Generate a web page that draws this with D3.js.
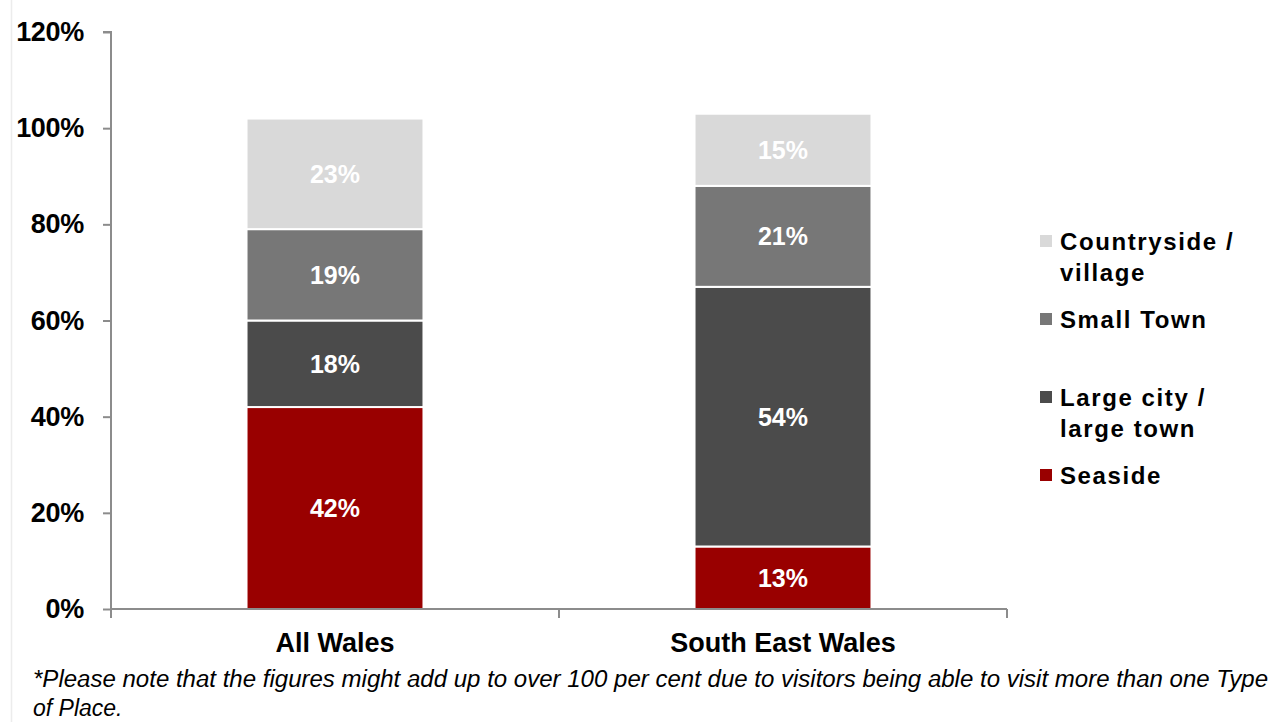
<!DOCTYPE html>
<html>
<head>
<meta charset="utf-8">
<script src="https://cdn.jsdelivr.net/npm/d3@7"></script>
<style>
  html, body { margin: 0; padding: 0; background: #fff; }
  svg { display: block; font-family: "Liberation Sans", Arial, sans-serif; }
</style>
</head>
<body>
<svg id="chart" width="1273" height="722"></svg>
<script>
// Regions shown as stacked columns
const regions = ["All Wales", "South East Wales"];

// Share of visitors by type of place (%), bottom to top
const seaside     = [42, 13];
const largeCity   = [18, 54];
const smallTown   = [19, 21];
const countryside = [23, 15];

const seriesNames  = ["Seaside", "Large city / large town", "Small Town", "Countryside / village"];
const seriesColors = ["#990000", "#4b4b4b", "#777777", "#d9d9d9"];
const legendLines  = [["Seaside"], ["Large city /", "large town"], ["Small Town"], ["Countryside /", "village"]];

const yTicks = [0, 20, 40, 60, 80, 100, 120];
const footnote = [
  "*Please note that the figures might add up to over 100 per cent due to visitors being able to visit more than one Type",
  "of Place."
];

const svg = d3.select("#chart");
const plot = { left: 111, right: 1007, top: 32, bottom: 609 };

// faint frame line on the left edge
svg.append("line")
  .attr("x1", 11.5).attr("x2", 11.5).attr("y1", 0).attr("y2", 722)
  .attr("stroke", "#ececec").attr("stroke-width", 1.5);

const x = d3.scaleBand()
  .domain(regions)
  .range([plot.left, plot.right])
  .paddingInner(0.605)
  .paddingOuter(0.3025);

const y = d3.scaleLinear().domain([0, 120]).range([plot.bottom, plot.top]);

// stacked data
const rows = regions.map((r, i) => ({
  region: r,
  s0: seaside[i], s1: largeCity[i], s2: smallTown[i], s3: countryside[i]
}));
const stack = d3.stack().keys(["s0", "s1", "s2", "s3"])(rows);

const layers = svg.append("g").selectAll("g")
  .data(stack)
  .join("g")
  .attr("fill", (d, i) => seriesColors[i]);

layers.selectAll("rect")
  .data(d => d)
  .join("rect")
  .attr("x", d => x(d.data.region))
  .attr("width", x.bandwidth())
  .attr("y", d => y(d[1]))
  .attr("height", d => y(d[0]) - y(d[1]))
  .attr("stroke", "#fff")
  .attr("stroke-width", 2);

// value labels
layers.selectAll("text")
  .data(d => d)
  .join("text")
  .attr("x", d => x(d.data.region) + x.bandwidth() / 2)
  .attr("y", d => (y(d[0]) + y(d[1])) / 2)
  .attr("dy", "0.36em")
  .attr("text-anchor", "middle")
  .attr("fill", "#ffffff")
  .attr("font-weight", "bold")
  .attr("font-size", 25)
  .text(d => Math.round(d[1] - d[0]) + "%");

// y axis
const yAxis = svg.append("g")
  .attr("transform", `translate(${plot.left},0)`)
  .call(d3.axisLeft(y).tickValues(yTicks).tickSize(8).tickPadding(19).tickFormat(d => d + "%"));
yAxis.select(".domain").attr("stroke", "#8c8c8c").attr("stroke-width", 2)
  .attr("d", `M-8,${y(120)}H0V${y(0)}`);
yAxis.selectAll(".tick line").attr("stroke", "#8c8c8c").attr("stroke-width", 2);
yAxis.selectAll(".tick text")
  .attr("font-family", "Liberation Sans, Arial, sans-serif")
  .attr("font-size", 27).attr("font-weight", "bold").attr("fill", "#000")
  .attr("letter-spacing", -0.3);

// x axis line with boundary ticks
const xAxis = svg.append("g");
xAxis.append("line")
  .attr("x1", plot.left).attr("x2", plot.right)
  .attr("y1", plot.bottom).attr("y2", plot.bottom)
  .attr("stroke", "#8c8c8c").attr("stroke-width", 2);
const bounds = [plot.left, ...regions.slice(1).map(r => x(r) - x.step() * x.paddingInner() / 2), plot.right];
xAxis.selectAll("line.tk")
  .data(bounds)
  .join("line").attr("class", "tk")
  .attr("x1", d => d).attr("x2", d => d)
  .attr("y1", plot.bottom).attr("y2", plot.bottom + 9)
  .attr("stroke", "#8c8c8c").attr("stroke-width", 2);
xAxis.selectAll("text")
  .data(regions)
  .join("text")
  .attr("x", d => x(d) + x.bandwidth() / 2)
  .attr("y", 652)
  .attr("text-anchor", "middle")
  .attr("font-size", 27).attr("font-weight", "bold").attr("fill", "#000")
  .text(d => d);

// legend (top entry first)
const legendY = [475, 397, 319, 241];
const legend = svg.append("g").selectAll("g")
  .data(seriesNames)
  .join("g")
  .attr("transform", (d, i) => `translate(1040,${legendY[i]})`);
legend.append("rect")
  .attr("x", 0).attr("y", -6).attr("width", 12).attr("height", 12)
  .attr("fill", (d, i) => seriesColors[i]);
legend.append("text")
  .attr("x", 20)
  .attr("font-size", 24).attr("font-weight", "bold").attr("fill", "#000")
  .attr("letter-spacing", 1.6)
  .selectAll("tspan")
  .data((d, i) => legendLines[i])
  .join("tspan")
  .attr("x", 20)
  .attr("y", (d, j) => j * 31)
  .attr("dy", "0.36em")
  .text(d => d);

// footnote
svg.append("g").selectAll("text")
  .data(footnote)
  .join("text")
  .attr("x", 33)
  .attr("y", (d, i) => 687 + i * 29)
  .attr("font-size", 23).attr("font-style", "italic").attr("fill", "#000")
  .each(function (d, i) {
    if (i === 0) d3.select(this).attr("textLength", 1235).attr("lengthAdjust", "spacingAndGlyphs");
  })
  .text(d => d);
</script>
</body>
</html>
